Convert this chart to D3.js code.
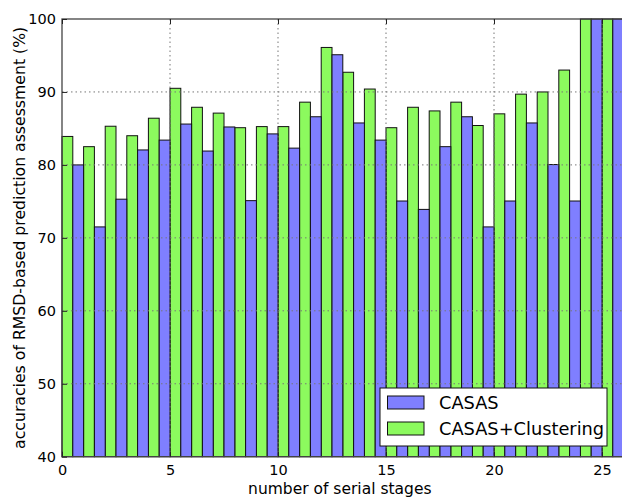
<!DOCTYPE html>
<html><head><meta charset="utf-8">
<script src="https://cdn.jsdelivr.net/npm/d3@7"></script>
<style>body{margin:0;background:#fff}svg{display:block;font-family:"DejaVu Sans",sans-serif}</style>
</head><body><svg id="c" width="622" height="499"></svg>
<script>
const stages = d3.range(0, 26);
const casas = [80.0,71.5,75.3,82.05,83.4,85.6,81.9,85.2,75.1,84.25,82.3,86.6,95.1,85.75,83.4,75.05,73.9,82.5,86.6,71.5,75.05,85.75,80.05,75.05,100,100];
const clustering = [83.9,82.5,85.3,84.0,86.4,90.5,87.9,87.1,85.1,85.25,85.25,88.6,96.1,92.7,90.4,85.1,87.9,87.4,88.6,85.4,87.0,89.7,90.0,93.0,100,100];
const xTicks = [0,5,10,15,20,25];
const yTicks = [40,50,60,70,80,90,100];
const seriesNames = ["CASAS","CASAS+Clustering"];

const L=62, T=19, R=623.6, B=456.7;
const svg = d3.select("#c");
const x = d3.scaleLinear().domain([0,26]).range([L,R]);
const y = d3.scaleLinear().domain([40,100]).range([B,T]);
const colBlue="#7f7fff", colGreen="#8cfa5e";
const w = 0.5;

const g = svg.append("g");
g.selectAll("rect.g").data(stages).join("rect").attr("class","g")
 .attr("x",d=>x(d)).attr("width",x(w)-x(0)).attr("y",d=>y(clustering[d])).attr("height",d=>B-y(clustering[d]))
 .attr("fill",colGreen).attr("stroke","#111").attr("stroke-width",1);
g.selectAll("rect.b").data(stages).join("rect").attr("class","b")
 .attr("x",d=>x(d+w)).attr("width",x(w)-x(0)).attr("y",d=>y(casas[d])).attr("height",d=>B-y(casas[d]))
 .attr("fill",colBlue).attr("stroke","#111").attr("stroke-width",1);

// grid
const grid = svg.append("g").attr("stroke","#777").attr("stroke-width",1).attr("stroke-dasharray","1.5,3");
grid.selectAll("line.gx").data(xTicks.filter(t=>t>0)).join("line").attr("x1",d=>x(d)).attr("x2",d=>x(d)).attr("y1",T).attr("y2",B);
grid.selectAll("line.gy").data(yTicks.filter(t=>t>40&&t<100)).join("line").attr("x1",L).attr("x2",R).attr("y1",d=>y(d)).attr("y2",d=>y(d));

// spines
svg.append("rect").attr("x",L).attr("y",T).attr("width",R-L).attr("height",B-T).attr("fill","none").attr("stroke","#444").attr("stroke-width",1.3);

// axes
const xa = svg.append("g").attr("transform",`translate(0,${B})`).call(d3.axisBottom(x).tickValues(xTicks).tickFormat(d3.format("d")).tickSizeInner(-5).tickSizeOuter(0).tickPadding(8));
const xt = svg.append("g").attr("transform",`translate(0,${T})`).call(d3.axisTop(x).tickValues(xTicks).tickFormat("").tickSizeInner(-5).tickSizeOuter(0));
const ya = svg.append("g").attr("transform",`translate(${L},0)`).call(d3.axisLeft(y).tickValues(yTicks).tickFormat(d3.format("d")).tickSizeInner(-5).tickSizeOuter(0).tickPadding(6));
[xa,xt,ya].forEach(a=>{a.select(".domain").remove();a.selectAll("line").attr("stroke","#222");a.selectAll("text").attr("font-size",14.5).attr("fill","#000").attr("font-family","DejaVu Sans");});

svg.append("text").attr("x",(L+R)/2-3).attr("y",494).attr("text-anchor","middle").attr("font-size",15.5).text("number of serial stages");
svg.append("text").attr("transform",`translate(25,${(T+B)/2}) rotate(-90)`).attr("text-anchor","middle").attr("font-size",15.7).text("accuracies of RMSD-based prediction assessment (%)");

// legend
const lg = svg.append("g");
lg.append("rect").attr("x",380).attr("y",388).attr("width",227).attr("height",58).attr("fill","#fff").attr("stroke","#111").attr("stroke-width",1);
const cols=[colBlue,colGreen];
seriesNames.forEach((n,i)=>{
  lg.append("rect").attr("x",387.5).attr("y",396+i*26).attr("width",36.5).attr("height",13).attr("fill",cols[i]).attr("stroke","#111");
  lg.append("text").attr("x",439).attr("y",408.5+i*26).attr("font-size",17.8).text(n);
});
</script></body></html>
